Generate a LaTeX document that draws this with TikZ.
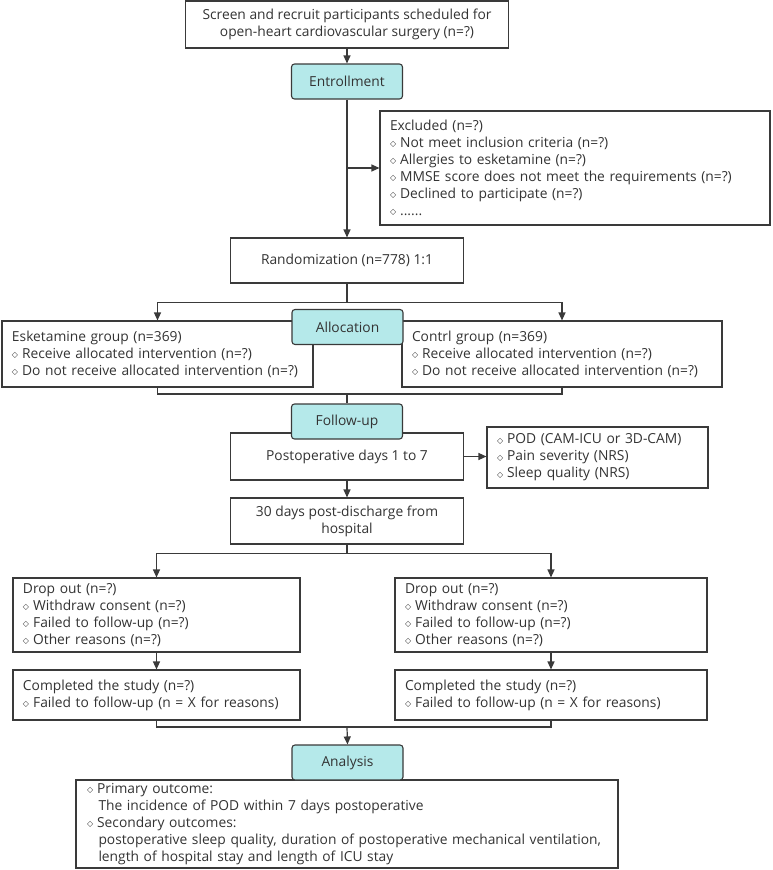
\documentclass[tikz,border=0pt]{standalone}
\usepackage{fontspec}
\setmainfont{Open Sans}
\newfontfamily\dejavu{DejaVu Sans}
\usetikzlibrary{arrows.meta}
\definecolor{ln}{HTML}{3A3A3A}
\definecolor{txt}{HTML}{333333}
\definecolor{phasefill}{HTML}{B5E9EA}
\newcommand\dia{{\dejavu\fontsize{8}{8}\selectfont\raisebox{0.8pt}{◇}}\hspace{4pt}}
\tikzset{
  box/.style={draw=ln, line width=1.1pt, fill=white, inner ysep=0pt, inner xsep=10pt,
    font=\fontsize{13.8}{17}\selectfont, text=txt},
  lbox/.style={box, align=left},
  cbox/.style={box, align=center},
  phase/.style={draw=ln, fill=phasefill, rounded corners=3pt, line width=1.1pt,
    minimum width=111pt, minimum height=35pt, inner sep=0pt,
    font=\fontsize{13.8}{17}\selectfont, text=txt},
  arr/.style={draw=ln, line width=1.2pt, -{Triangle[length=8pt,width=7pt]}},
  con/.style={draw=ln, line width=1.2pt},
}
\begin{document}
\begin{tikzpicture}[x=1pt,y=-1pt]
\useasboundingbox (0,0) rectangle (772,870);
% boxes
\node[cbox, minimum width=323pt, minimum height=47pt] (top) at (347,24.5)
  {Screen and recruit participants scheduled for\\open-heart cardiovascular surgery (n=?)};
\node[lbox, minimum width=390pt, minimum height=114pt, text width=370pt] (exc) at (575,168)
  {Excluded (n=?)\\\dia Not meet inclusion criteria (n=?)\\\dia Allergies to esketamine (n=?)\\\dia MMSE score does not meet the requirements (n=?)\\\dia Declined to participate (n=?)\\\dia ......};
\node[cbox, minimum width=233pt, minimum height=45pt] (rand) at (347,260.5)
  {Randomization (n=778) 1:1};
\node[lbox, minimum width=311pt, minimum height=66pt, text width=291pt] (esk) at (157.5,354)
  {Esketamine group (n=369)\\\dia Receive allocated intervention (n=?)\\\dia Do not receive allocated intervention (n=?)};
\node[lbox, minimum width=320pt, minimum height=66pt, text width=300pt] (ctl) at (562,354)
  {Contrl group (n=369)\\\dia Receive allocated intervention (n=?)\\\dia Do not receive allocated intervention (n=?)};
\node[cbox, minimum width=233pt, minimum height=47pt] (post) at (347,456.5)
  {Postoperative days 1 to 7};
\node[lbox, minimum width=221pt, minimum height=61pt, text width=201pt] (pod) at (597.5,457.5)
  {\dia POD (CAM-ICU or 3D-CAM)\\\dia Pain severity (NRS)\\\dia Sleep quality (NRS)};
\node[cbox, minimum width=233pt, minimum height=46pt] (d30) at (347,521)
  {30 days post-discharge from\\hospital};
\node[lbox, minimum width=287pt, minimum height=74pt, text width=267pt] (dl) at (156.5,615)
  {Drop out (n=?)\\\dia Withdraw consent (n=?)\\\dia Failed to follow-up (n=?)\\\dia Other reasons (n=?)};
\node[lbox, minimum width=312pt, minimum height=74pt, text width=292pt] (dr) at (551,615)
  {Drop out (n=?)\\\dia Withdraw consent (n=?)\\\dia Failed to follow-up (n=?)\\\dia Other reasons (n=?)};
\node[lbox, minimum width=287pt, minimum height=50pt, text width=267pt] (cl) at (156.5,695)
  {Completed the study (n=?)\\\dia Failed to follow-up (n = X for reasons)};
\node[lbox, minimum width=312pt, minimum height=50pt, text width=292pt] (cr) at (551,695)
  {Completed the study (n=?)\\\dia Failed to follow-up (n = X for reasons)};
\node[lbox, minimum width=542pt, minimum height=88pt, text width=520pt, inner xsep=11pt] (bot) at (347,824)
  {\dia Primary outcome:\\\hspace*{11.5pt}The incidence of POD within 7 days postoperative\\\dia Secondary outcomes:\\\hspace*{11.5pt}\makebox[505pt][l]{postoperative sleep quality, duration of postoperative mechanical ventilation,}\\\hspace*{11.5pt}length of hospital stay and length of ICU stay};
% phase labels
\node[phase] (ent) at (347,81.5) {Entrollment};
\node[phase] (alloc) at (347.5,327) {Allocation};
\node[phase] (fu) at (347,421.5) {Follow-up};
\node[phase] (ana) at (347.5,762.5) {Analysis};
% connectors
\draw[arr] (top.south) -- (ent.north);
\draw[arr] (ent.south) -- (rand.north);
\draw[arr] (ent.south |- exc.west) -- (exc.west);
\draw[con] (rand.south) -- ++(0,19) coordinate (s1);
\draw[arr] (s1) -| (esk.north);
\draw[arr] (s1) -| (ctl.north);
\coordinate (m1) at (347,394);
\draw[con] (esk.south) |- (m1) -| (ctl.south);
\draw[con] (m1) -- (fu.north);
\draw[arr] (post.east) -- (post.east -| pod.west);
\draw[arr] (post.south) -- (d30.north);
\draw[con] (d30.south) -- ++(0,9) coordinate (s2);
\draw[arr] (s2) -| (dl.north);
\draw[arr] (s2) -| (dr.north);
\draw[arr] (dl.south) -- (cl.north);
\draw[arr] (dr.south) -- (cr.north);
\coordinate (m2) at (347,727);
\draw[con] (cl.south) |- (m2) -| (cr.south);
\draw[arr] (m2) -- (ana.north);
\end{tikzpicture}
\end{document}
